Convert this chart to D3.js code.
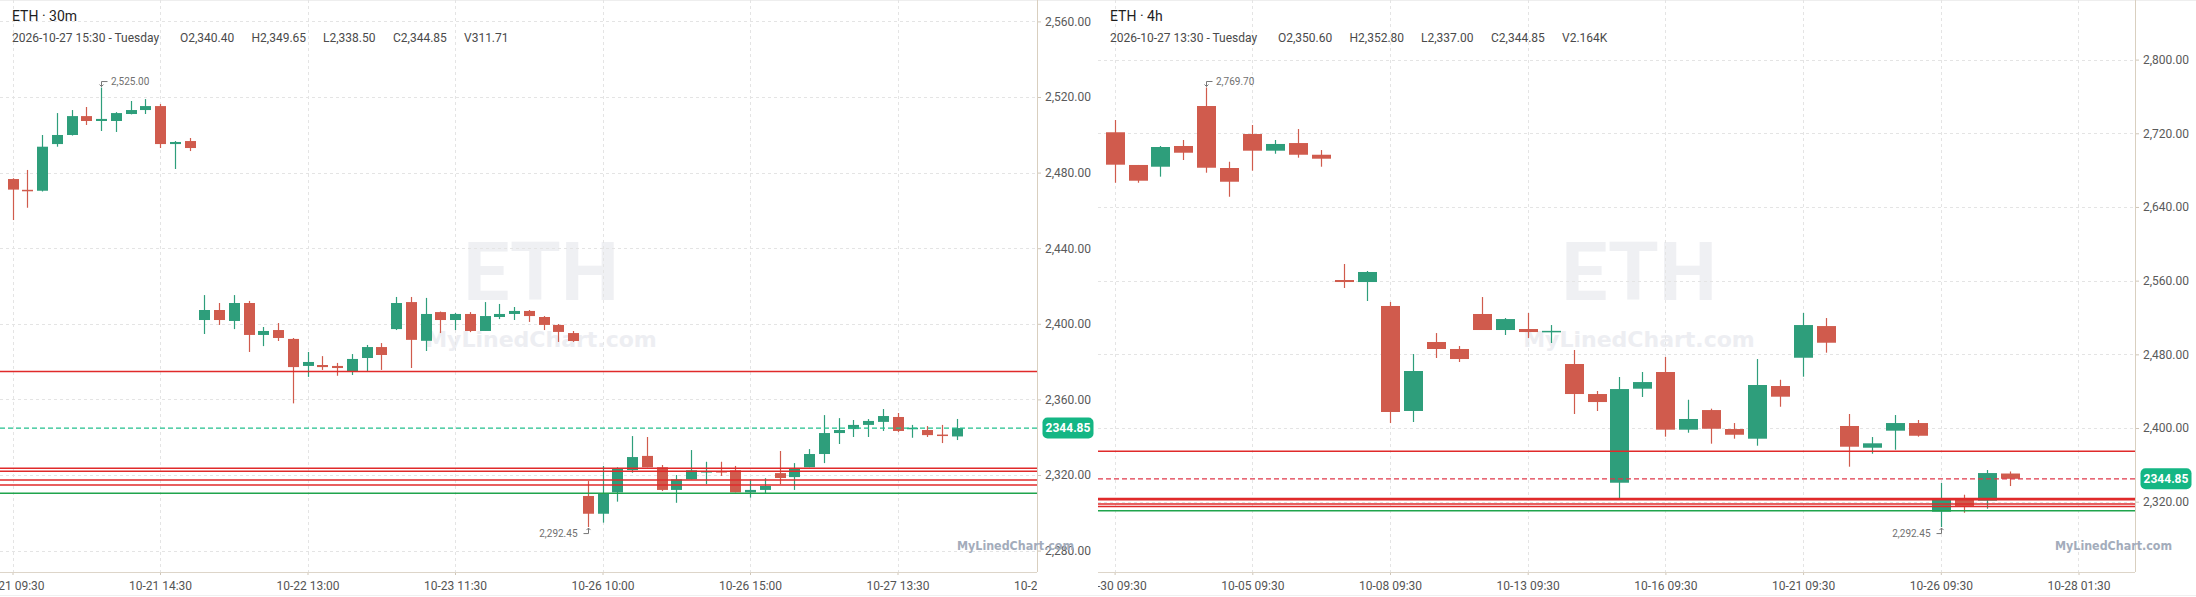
<!DOCTYPE html>
<html lang="en">
<head>
<meta charset="UTF-8" />
<title>ETH 30m / 4h</title>
<script src="https://cdnjs.cloudflare.com/ajax/libs/d3/7.8.5/d3.min.js"></script>
<style>
  body { margin: 0; background: #fff; }
  svg { display: block; font-family: Roboto, "Noto Sans", Arial, sans-serif; }
</style>
</head>
<body>
<div id="chart"></div>
<script>
// [open, high, low, close]
var bars30m = [
  [2476.6, 2477.0, 2454.9, 2471.0], [2470.9, 2481.4, 2461.4, 2470.5], [2470.4, 2499.9, 2470.0, 2493.7],
  [2495.1, 2511.5, 2493.7, 2499.9], [2499.9, 2513.1, 2499.6, 2509.9], [2509.9, 2514.7, 2505.2, 2507.3],
  [2507.3, 2525.0, 2502.0, 2508.4], [2507.3, 2512.0, 2501.5, 2511.5], [2511.0, 2517.9, 2510.8, 2513.1],
  [2513.1, 2518.9, 2511.0, 2515.2], [2515.2, 2516.3, 2493.0, 2495.1], [2495.1, 2496.7, 2481.9, 2496.2],
  [2496.7, 2498.3, 2491.4, 2493.0], [2402.0, 2415.2, 2394.6, 2407.3], [2407.3, 2411.0, 2399.4, 2402.0],
  [2401.5, 2415.2, 2397.2, 2411.0], [2411.0, 2412.1, 2385.1, 2394.1], [2394.1, 2398.3, 2388.2, 2396.2],
  [2396.7, 2400.4, 2390.9, 2392.5], [2392.0, 2392.5, 2357.9, 2377.1], [2377.7, 2385.1, 2371.9, 2379.8],
  [2378.2, 2382.9, 2375.6, 2377.1], [2377.7, 2379.3, 2372.5, 2376.6], [2375.0, 2384.0, 2372.9, 2381.4],
  [2381.9, 2388.8, 2375.0, 2387.7], [2387.7, 2389.8, 2375.6, 2383.5], [2397.2, 2414.2, 2396.7, 2411.0],
  [2411.5, 2414.2, 2376.6, 2391.5], [2391.0, 2413.7, 2385.6, 2405.2], [2406.2, 2406.5, 2395.1, 2402.0],
  [2402.0, 2405.7, 2396.7, 2405.2], [2405.2, 2406.2, 2395.6, 2396.2], [2396.2, 2411.5, 2396.2, 2404.1],
  [2403.6, 2410.5, 2402.5, 2405.2], [2405.2, 2408.9, 2402.0, 2406.8], [2406.8, 2407.3, 2401.0, 2404.1],
  [2403.6, 2404.1, 2396.7, 2399.4], [2399.4, 2399.9, 2390.4, 2395.7], [2395.1, 2396.2, 2390.4, 2390.9],
  [2308.9, 2316.8, 2292.45, 2299.5], [2299.5, 2324.8, 2294.8, 2310.0], [2310.8, 2324.1, 2305.9, 2323.2],
  [2322.6, 2340.6, 2321.2, 2329.5], [2330.1, 2340.1, 2324.1, 2324.1], [2324.1, 2325.3, 2311.5, 2312.1],
  [2312.1, 2320.0, 2305.3, 2317.7], [2317.7, 2333.2, 2317.7, 2322.5], [2321.9, 2327.0, 2315.2, 2322.1],
  [2322.1, 2327.0, 2319.5, 2321.9], [2322.5, 2324.8, 2310.8, 2310.8], [2310.8, 2317.7, 2308.0, 2312.1],
  [2312.1, 2318.3, 2310.1, 2314.2], [2321.0, 2332.7, 2315.1, 2318.4], [2318.9, 2326.3, 2312.1, 2323.7],
  [2324.1, 2333.7, 2324.1, 2331.1], [2331.1, 2351.7, 2326.3, 2342.2], [2342.2, 2350.1, 2336.4, 2343.8],
  [2344.3, 2349.1, 2340.1, 2346.5], [2346.5, 2349.6, 2340.1, 2348.6], [2348.1, 2354.9, 2343.3, 2351.2],
  [2350.7, 2352.8, 2342.7, 2343.3], [2344.5, 2346.5, 2339.7, 2345.0], [2343.8, 2345.9, 2340.1, 2341.1],
  [2341.4, 2346.5, 2336.9, 2340.9], [2340.4, 2349.65, 2338.5, 2344.85]
];

var bars4h = [
  [2721.1, 2734.4, 2666.3, 2685.9], [2685.6, 2685.6, 2666.3, 2668.5], [2683.7, 2706.2, 2672.9, 2705.1],
  [2706.2, 2712.7, 2691.0, 2698.9], [2749.6, 2769.7, 2677.2, 2682.6], [2682.3, 2689.1, 2651.1, 2667.4],
  [2719.2, 2729.0, 2679.4, 2701.1], [2701.1, 2712.7, 2697.8, 2708.4], [2709.4, 2724.6, 2693.5, 2696.7],
  [2696.7, 2701.8, 2683.7, 2692.4], [2560.7, 2578.1, 2552.0, 2558.5], [2558.5, 2570.5, 2537.9, 2569.4],
  [2532.5, 2536.8, 2405.4, 2417.4], [2418.5, 2480.3, 2406.5, 2461.9], [2493.4, 2503.1, 2476.0, 2485.8],
  [2485.8, 2489.0, 2471.7, 2474.9], [2523.8, 2542.2, 2506.4, 2506.4], [2506.4, 2519.4, 2501.0, 2518.3],
  [2507.5, 2524.9, 2497.7, 2504.2], [2505.0, 2511.8, 2492.3, 2505.5], [2469.5, 2484.7, 2415.2, 2436.9],
  [2436.9, 2440.2, 2418.5, 2428.2], [2340.6, 2455.4, 2324.0, 2442.3], [2442.7, 2460.8, 2433.7, 2449.9],
  [2460.8, 2477.1, 2390.6, 2398.2], [2398.2, 2430.7, 2394.9, 2409.8], [2419.5, 2421.0, 2383.0, 2399.2],
  [2398.9, 2405.4, 2388.4, 2392.7], [2388.4, 2474.9, 2380.8, 2446.7], [2445.6, 2452.4, 2423.1, 2434.0],
  [2476.3, 2524.9, 2455.7, 2511.8], [2510.7, 2519.4, 2481.8, 2492.6], [2402.2, 2415.2, 2358.0, 2379.7],
  [2378.6, 2390.2, 2372.1, 2383.4], [2397.1, 2414.1, 2376.4, 2405.4], [2405.4, 2408.7, 2390.6, 2391.6],
  [2309.1, 2340.3, 2292.45, 2322.2], [2323.2, 2327.6, 2308.0, 2315.0], [2321.1, 2354.4, 2312.4, 2351.1],
  [2350.6, 2352.8, 2337.0, 2344.85]
];

var timeLabels30m = ["10-21 09:30", "10-21 14:30", "10-22 13:00", "10-23 11:30", "10-26 10:00", "10-26 15:00", "10-27 13:30", "10-28 08:00"];
var timeLabels4h = ["09-30 09:30", "10-05 09:30", "10-08 09:30", "10-13 09:30", "10-16 09:30", "10-21 09:30", "10-26 09:30", "10-28 01:30"];

var priceTicks30m = [2280, 2320, 2360, 2400, 2440, 2480, 2520, 2560];
var priceTicks4h = [2320, 2400, 2480, 2560, 2640, 2720, 2800];

var info30m = ["2026-10-27 15:30 - Tuesday", "O2,340.40", "H2,349.65", "L2,338.50", "C2,344.85", "V311.71"];
var info4h = ["2026-10-27 13:30 - Tuesday", "O2,350.60", "H2,352.80", "L2,337.00", "C2,344.85", "V2.164K"];

var resistanceLevels = [2374.7, 2323.6, 2322.0, 2317.4, 2314.7];
var supportLevels = [2310.3];
var lastPrice = 2344.85;

var W = 2196, H = 597;
var plotW = 1037, plotH = 572;
var upColor = "#2e9e7b", downColor = "#d05b4d";
var fmtPrice = d3.format(",.2f");

var svg = d3.select("#chart").append("svg").attr("width", W).attr("height", H);

svg.append("line").attr("x1", 0).attr("x2", W).attr("y1", 0.5).attr("y2", 0.5).attr("stroke", "#eeeeee");
svg.append("line").attr("x1", 0).attr("x2", W).attr("y1", 595.5).attr("y2", 595.5).attr("stroke", "#f0f0f0");

function drawPanel(p) {
  var g = svg.append("g").attr("transform", "translate(" + p.x0 + ",0)");
  var x = d3.scaleLinear().domain([0, 1]).range([p.first, p.first + p.step]);
  var y = d3.scaleLinear().domain(p.yDomain).range(p.yRange);
  var tickIdx = p.timeLabels.map(function (d, i) { return i * p.tickEvery; });

  g.append("clipPath").attr("id", "clip-" + p.id)
    .append("rect").attr("width", plotW).attr("height", H);
  var plot = g.append("g").attr("clip-path", "url(#clip-" + p.id + ")");

  // big watermark
  plot.append("text").attr("x", 541).attr("y", 300).attr("text-anchor", "middle")
    .style("font-size", "82px").style("font-weight", "bold").style("fill", "#eff0f3")
    .text("ETH");
  plot.append("text").attr("x", 541).attr("y", 347).attr("text-anchor", "middle")
    .style("font-family", "'DejaVu Sans'").style("font-size", "22px").style("font-weight", "bold")
    .style("fill", "#edeef2").text("MyLinedChart.com");

  // grid
  plot.selectAll(".vgrid").data(tickIdx).enter().append("line")
    .attr("x1", function (d) { return Math.round(x(d)) + 0.5; })
    .attr("x2", function (d) { return Math.round(x(d)) + 0.5; })
    .attr("y1", 0).attr("y2", plotH)
    .attr("stroke", "#e4e4e4").attr("stroke-dasharray", "3,3");
  plot.selectAll(".hgrid").data(p.priceTicks).enter().append("line")
    .attr("x1", 0).attr("x2", plotW)
    .attr("y1", function (d) { return Math.round(y(d)) + 0.5; })
    .attr("y2", function (d) { return Math.round(y(d)) + 0.5; })
    .attr("stroke", "#e4e4e4").attr("stroke-dasharray", "3,3");

  // candles
  var c = plot.selectAll(".candle").data(p.bars).enter().append("g");
  c.append("line")
    .attr("x1", function (d, i) { return Math.round(x(i)) + 0.5; })
    .attr("x2", function (d, i) { return Math.round(x(i)) + 0.5; })
    .attr("y1", function (d) { return y(d[1]); })
    .attr("y2", function (d) { return y(d[2]); })
    .attr("stroke", function (d) { return d[3] >= d[0] ? upColor : downColor; })
    .attr("stroke-width", 1.2);
  c.append("rect")
    .attr("x", function (d, i) { return Math.round(x(i)) + 0.5 - p.bodyW / 2; })
    .attr("width", p.bodyW)
    .attr("y", function (d) { return y(Math.max(d[0], d[3])); })
    .attr("height", function (d) { return Math.max(1.5, Math.abs(y(d[0]) - y(d[3]))); })
    .attr("fill", function (d) { return d[3] >= d[0] ? upColor : downColor; });

  // levels
  plot.selectAll(".res").data(resistanceLevels).enter().append("line")
    .attr("x1", 0).attr("x2", plotW)
    .attr("y1", function (d) { return y(d); }).attr("y2", function (d) { return y(d); })
    .attr("stroke", "#e02a2a").attr("stroke-width", 1.5);
  plot.selectAll(".sup").data(supportLevels).enter().append("line")
    .attr("x1", 0).attr("x2", plotW)
    .attr("y1", function (d) { return y(d); }).attr("y2", function (d) { return y(d); })
    .attr("stroke", "#1fa44c").attr("stroke-width", 1.5);
  plot.append("line")
    .attr("x1", 0).attr("x2", plotW)
    .attr("y1", y(lastPrice)).attr("y2", y(lastPrice))
    .attr("stroke", p.lastColor).attr("stroke-width", 1.2).attr("stroke-dasharray", "5,3");

  // high / low marks
  var hiI = d3.maxIndex(p.bars, function (d) { return d[1]; });
  var loI = d3.minIndex(p.bars, function (d) { return d[2]; });
  var hx = Math.round(x(hiI)) + 0.5, hy = y(p.bars[hiI][1]);
  var lx = Math.round(x(loI)) + 0.5, ly = y(p.bars[loI][2]);
  var mark = plot.append("g").attr("stroke", "#777").attr("fill", "none").attr("stroke-width", 1);
  mark.append("path").attr("d", "M" + (hx + 6) + "," + (hy - 6) + "H" + hx + "V" + (hy - 1));
  mark.append("path").attr("d", "M" + (hx - 2) + "," + (hy - 3) + "L" + hx + "," + (hy - 1) + "L" + (hx + 2) + "," + (hy - 3));
  mark.append("path").attr("d", "M" + (lx - 5) + "," + (ly + 6.5) + "H" + lx + "V" + (ly + 1));
  mark.append("path").attr("d", "M" + (lx - 2) + "," + (ly + 3) + "L" + lx + "," + (ly + 1) + "L" + (lx + 2) + "," + (ly + 3));
  plot.append("text").attr("x", hx + 9.5).attr("y", hy - 6).attr("dy", "0.35em")
    .style("font-size", "10px").style("fill", "#707070").text(fmtPrice(p.bars[hiI][1]));
  plot.append("text").attr("x", lx - 11).attr("y", ly + 6.5).attr("dy", "0.35em").attr("text-anchor", "end")
    .style("font-size", "10px").style("fill", "#707070").text(fmtPrice(p.bars[loI][2]));

  // header
  g.append("text").attr("x", 12).attr("y", 21).style("font-size", "14px").style("fill", "#1e1e1e")
    .text(p.title);
  var infoX = [12, 180, 251.5, 323, 393, 464];
  g.selectAll(".info").data(p.info).enter().append("text")
    .attr("x", function (d, i) { return infoX[i]; }).attr("y", 42)
    .style("font-size", "12px").style("fill", "#4a4a4a")
    .text(function (d) { return d; });

  // time axis
  var tAxis = g.append("g").attr("clip-path", "url(#clip-" + p.id + ")")
    .attr("transform", "translate(0," + plotH + ")")
    .call(d3.axisBottom(x).tickValues(tickIdx).tickSize(3).tickPadding(6)
      .tickFormat(function (d, i) { return p.timeLabels[i]; }));
  tAxis.select(".domain").remove();
  tAxis.selectAll(".tick line").attr("stroke", "#cfc6b8");
  tAxis.selectAll("text").style("font-size", "12px").style("fill", "#555").style("font-family", "Roboto");
  g.append("line").attr("x1", 0).attr("x2", plotW).attr("y1", plotH + 0.5).attr("y2", plotH + 0.5)
    .attr("stroke", "#ddd5c9");

  // price axis
  var pAxis = g.append("g").attr("transform", "translate(" + plotW + ",0)")
    .call(d3.axisRight(y).tickValues(p.priceTicks).tickSize(4).tickPadding(4).tickFormat(fmtPrice));
  pAxis.select(".domain").remove();
  pAxis.selectAll(".tick line").attr("stroke", "#cfc6b8");
  pAxis.selectAll("text").style("font-size", "12px").style("fill", "#5a5a5a").style("font-family", "Roboto");
  g.append("line").attr("x1", plotW + 0.5).attr("x2", plotW + 0.5).attr("y1", 0).attr("y2", plotH)
    .attr("stroke", "#d9cfbf");

  // last price badge
  var by = y(lastPrice);
  g.append("rect").attr("x", plotW + 5.5).attr("y", by - 10.5).attr("width", 51).attr("height", 21)
    .attr("rx", 5).attr("fill", "#14b684");
  g.append("text").attr("x", plotW + 31).attr("y", by).attr("dy", "0.35em").attr("text-anchor", "middle")
    .style("font-size", "12px").style("font-weight", "bold").style("fill", "#fff")
    .text(d3.format(".2f")(lastPrice));

  // small watermark
  g.append("text").attr("x", 957).attr("y", 550)
    .attr("textLength", 117).attr("lengthAdjust", "spacingAndGlyphs")
    .style("font-family", "'DejaVu Sans'").style("font-size", "12px").style("font-weight", "bold")
    .style("fill", "#a3acbb").text("MyLinedChart.com");
}

drawPanel({
  id: "m30", x0: 0, bars: bars30m, first: 12.5, step: 14.75, bodyW: 11,
  yDomain: [2280, 2560], yRange: [550.6, 21.4], priceTicks: priceTicks30m,
  timeLabels: timeLabels30m, tickEvery: 10, title: "ETH · 30m", info: info30m,
  lastColor: "#22c08d"
});

drawPanel({
  id: "h4", x0: 1098, bars: bars4h, first: 16.6, step: 22.95, bodyW: 19,
  yDomain: [2320, 2800], yRange: [501.7, 59.6], priceTicks: priceTicks4h,
  timeLabels: timeLabels4h, tickEvery: 6, title: "ETH · 4h", info: info4h,
  lastColor: "#e0384a"
});
</script>
</body>
</html>
